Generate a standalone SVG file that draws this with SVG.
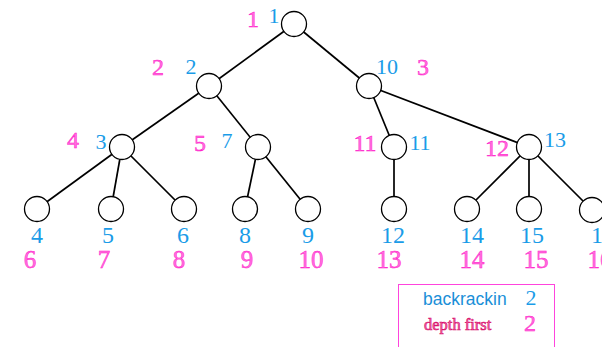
<svg xmlns="http://www.w3.org/2000/svg" width="602" height="347" viewBox="0 0 602 347">
  <style>
    .edge { stroke: #000; stroke-width: 1.7; fill: none; }
    .node circle { fill: #fff; stroke: #000; stroke-width: 1.3; }
    .bt { font-family: "Liberation Serif", "Times New Roman", serif; font-size: 22px; fill: #1a9ce8; text-anchor: middle; }
    .df { font-family: "Liberation Serif", "Times New Roman", serif; font-size: 24px; fill: #ff70de; stroke: #ff10c8; stroke-width: 0.45; text-anchor: middle; }
    .leaf .bt { font-size: 24px; }
    .leaf .df { font-size: 25px; }
  </style>
  <rect width="602" height="347" fill="#fff"/>

  <g id="connectors">
    <line class="edge" x1="294" y1="24" x2="209" y2="86"/>
    <line class="edge" x1="294" y1="24" x2="369" y2="86"/>
    <line class="edge" x1="209" y1="86" x2="122" y2="147"/>
    <line class="edge" x1="209" y1="86" x2="258" y2="147"/>
    <line class="edge" x1="369" y1="86" x2="394" y2="147"/>
    <line class="edge" x1="369" y1="86" x2="529" y2="147"/>
    <line class="edge" x1="122" y1="147" x2="37" y2="209"/>
    <line class="edge" x1="122" y1="147" x2="111" y2="209"/>
    <line class="edge" x1="122" y1="147" x2="184" y2="209"/>
    <line class="edge" x1="258" y1="147" x2="245" y2="209"/>
    <line class="edge" x1="258" y1="147" x2="308" y2="209"/>
    <line class="edge" x1="394" y1="147" x2="394" y2="209"/>
    <line class="edge" x1="529" y1="147" x2="467" y2="209"/>
    <line class="edge" x1="529" y1="147" x2="529" y2="209"/>
    <line class="edge" x1="529" y1="147" x2="592" y2="210"/>
  </g>

  <!-- internal nodes: backtracking label (blue) and depth-first label (magenta) -->
  <g id="n1" class="node"><circle cx="294" cy="24" r="12.5"/>
    <text class="df" x="253" y="27" font-size="26">1</text><text class="bt" x="274" y="23">1</text></g>
  <g id="n2" class="node"><circle cx="209" cy="86" r="12.5"/>
    <text class="df" x="158" y="75" font-size="22">2</text><text class="bt" x="191" y="74">2</text></g>
  <g id="n10" class="node"><circle cx="369" cy="86" r="12.5"/>
    <text class="bt" x="387" y="74">10</text><text class="df" x="423" y="75" font-size="22">3</text></g>
  <g id="n3" class="node"><circle cx="122" cy="147" r="12.5"/>
    <text class="df" x="73" y="148" font-size="25">4</text><text class="bt" x="101" y="149">3</text></g>
  <g id="n7" class="node"><circle cx="258" cy="147" r="12.5"/>
    <text class="df" x="200" y="151" font-size="25">5</text><text class="bt" x="227" y="148">7</text></g>
  <g id="n11" class="node"><circle cx="394" cy="147" r="12.5"/>
    <text class="df" x="365" y="151">11</text><text class="bt" x="420" y="150">11</text></g>
  <g id="n13" class="node"><circle cx="529" cy="147" r="12.5"/>
    <text class="df" x="497" y="156" font-size="26">12</text><text class="bt" x="555" y="147" font-size="25">13</text></g>

  <!-- leaves -->
  <g id="n4" class="node leaf"><circle cx="37" cy="209" r="12.5"/>
    <text class="bt" x="37" y="243">4</text><text class="df" x="30" y="268">6</text></g>
  <g id="n5" class="node leaf"><circle cx="111" cy="209" r="12.5"/>
    <text class="bt" x="108" y="243">5</text><text class="df" x="104" y="268">7</text></g>
  <g id="n6" class="node leaf"><circle cx="184" cy="209" r="12.5"/>
    <text class="bt" x="183" y="243">6</text><text class="df" x="179" y="268">8</text></g>
  <g id="n8" class="node leaf"><circle cx="245" cy="209" r="12.5"/>
    <text class="bt" x="245" y="243">8</text><text class="df" x="247" y="268">9</text></g>
  <g id="n9" class="node leaf"><circle cx="308" cy="209" r="12.5"/>
    <text class="bt" x="308" y="243">9</text><text class="df" x="311" y="268">10</text></g>
  <g id="n12" class="node leaf"><circle cx="394" cy="209" r="12.5"/>
    <text class="bt" x="393" y="243">12</text><text class="df" x="389" y="268">13</text></g>
  <g id="n14" class="node leaf"><circle cx="467" cy="209" r="12.5"/>
    <text class="bt" x="472" y="243">14</text><text class="df" x="472" y="268">14</text></g>
  <g id="n15" class="node leaf"><circle cx="529" cy="209" r="12.5"/>
    <text class="bt" x="532" y="243">15</text><text class="df" x="536" y="268">15</text></g>
  <g id="n16" class="node leaf"><circle cx="592" cy="210" r="12.5"/>
    <text class="bt" x="603" y="243">16</text><text class="df" x="600" y="268">16</text></g>

  <!-- legend -->
  <g id="legend">
    <rect x="398.5" y="284.5" width="156" height="70" fill="none" stroke="#ff44dd" stroke-width="1"/>
    <text x="423" y="305" font-family="Liberation Sans, Arial, sans-serif" font-size="17.5" fill="#1a8fd8">backrackin</text>
    <text class="bt" x="531" y="305" font-size="24">2</text>
    <text x="424" y="330" font-family="Liberation Serif, Times New Roman, serif" font-size="16.5" fill="#f26ab0" stroke="#d8106a" stroke-width="0.6">depth first</text>
    <text class="df" x="530" y="331" font-size="25">2</text>
  </g>
</svg>
